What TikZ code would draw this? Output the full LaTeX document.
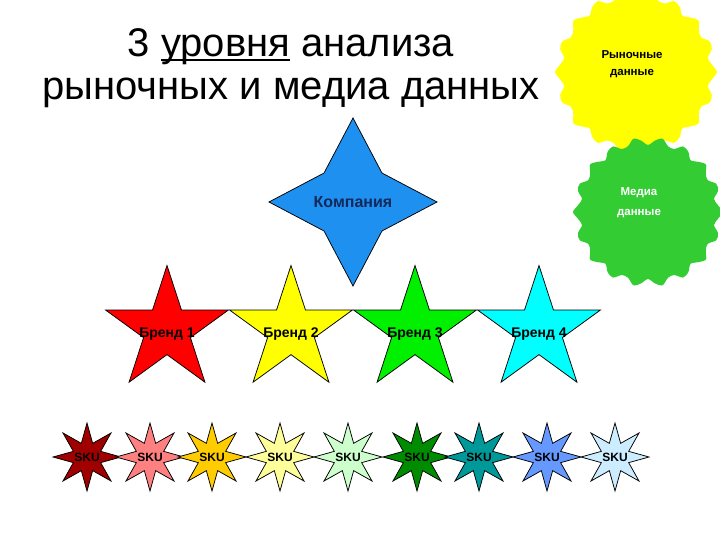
\documentclass[tikz,border=0pt]{standalone}
\usepackage{fontspec}
\setmainfont{Liberation Sans}
\usepackage{tikz}
\usetikzlibrary{shapes.geometric}

\newcommand{\titleuline}[1]{\setbox0\hbox{#1}\rlap{\rule[-5pt]{\wd0}{2.5pt}}#1}

\definecolor{sealyellow}{RGB}{255,255,0}
\definecolor{sealgreen}{RGB}{51,204,51}
\definecolor{companyblue}{RGB}{30,144,240}
\definecolor{companytext}{RGB}{20,40,90}
\definecolor{brandred}{RGB}{255,0,0}
\definecolor{brandyellow}{RGB}{255,255,0}
\definecolor{brandgreen}{RGB}{0,240,0}
\definecolor{brandcyan}{RGB}{0,255,255}
\definecolor{skudarkred}{RGB}{160,0,0}
\definecolor{skusalmon}{RGB}{255,128,128}
\definecolor{skugold}{RGB}{255,204,0}
\definecolor{skulightyellow}{RGB}{255,255,153}
\definecolor{skulightgreen}{RGB}{204,255,204}
\definecolor{skugreen}{RGB}{0,140,0}
\definecolor{skuteal}{RGB}{0,153,153}
\definecolor{skublue}{RGB}{102,153,255}
\definecolor{skulightblue}{RGB}{204,236,255}

\begin{document}
\begin{tikzpicture}[x=1pt,y=-1pt]
	\useasboundingbox[fill=white] (0,0) rectangle (720,540);

	\node[align=center,font=\fontsize{40}{43}\selectfont] (title) at (291,68) {3 \titleuline{уровня} анализа\\рыночных и медиа данных};

	\begin{scope}[shift={(636,72)}]
		\fill[sealyellow] plot[smooth cycle,domain=0:354.375,samples=64] (\x:{77+4*cos(18*\x)});
	\end{scope}
	\begin{scope}[shift={(648,212)}]
		\fill[sealgreen] plot[smooth cycle,domain=0:354.375,samples=64] (\x:{71+4*cos(18*\x)});
	\end{scope}

	\begin{scope}[every node/.style={star,inner sep=0pt,draw=black,line width=0.75pt}]
	    \node[star points=4,star point ratio=2.05,minimum size=168pt,fill=companyblue] (company) at (353,202) {};

	    \node[star points=5,star point ratio=2.618,minimum size=129pt,fill=brandred] (b1) at (167,330) {};
	    \node[star points=5,star point ratio=2.618,minimum size=129pt,fill=brandyellow] (b2) at (291,330) {};
	    \node[star points=5,star point ratio=2.618,minimum size=129pt,fill=brandgreen] (b3) at (415,330) {};
	    \node[star points=5,star point ratio=2.618,minimum size=129pt,fill=brandcyan] (b4) at (539,330) {};

	    \node[star points=8,star point ratio=2.3,minimum size=68pt,fill=skudarkred] (s1) at (87,457) {};
	    \node[star points=8,star point ratio=2.3,minimum size=68pt,fill=skusalmon] (s2) at (150,457) {};
	    \node[star points=8,star point ratio=2.3,minimum size=68pt,fill=skugold] (s3) at (212,457) {};
	    \node[star points=8,star point ratio=2.3,minimum size=68pt,fill=skulightyellow] (s4) at (280,457) {};
	    \node[star points=8,star point ratio=2.3,minimum size=68pt,fill=skulightgreen] (s5) at (348,457) {};
	    \node[star points=8,star point ratio=2.3,minimum size=68pt,fill=skugreen] (s6) at (417,457) {};
	    \node[star points=8,star point ratio=2.3,minimum size=68pt,fill=skuteal] (s7) at (479,457) {};
	    \node[star points=8,star point ratio=2.3,minimum size=68pt,fill=skublue] (s8) at (547,457) {};
	    \node[star points=8,star point ratio=2.3,minimum size=68pt,fill=skulightblue] (s9) at (615,457) {};
	\end{scope}

	\begin{scope}[every node/.style={inner sep=0pt,align=center,font=\bfseries\fontsize{12}{17}\selectfont}]
	    \node[font=\bfseries\fontsize{11.5}{17}\selectfont] (market) at (632,64) {Рыночные\\данные};
	    \node[text=white,font=\bfseries\fontsize{11.5}{20}\selectfont] (media) at (639,203) {Медиа\\данные};
	    \node[text=companytext,font=\bfseries\fontsize{16}{19}\selectfont] (companytext) at (company) {Компания};
	    \node[font=\bfseries\fontsize{14}{17}\selectfont,yshift=-4pt] (b1text) at (b1) {Бренд 1};
	    \node[font=\bfseries\fontsize{14}{17}\selectfont,yshift=-4pt] (b2text) at (b2) {Бренд 2};
	    \node[font=\bfseries\fontsize{14}{17}\selectfont,yshift=-4pt] (b3text) at (b3) {Бренд 3};
	    \node[font=\bfseries\fontsize{14}{17}\selectfont,yshift=-4pt] (b4text) at (b4) {Бренд 4};
	    \node (s1text) at (s1) {SKU};
	    \node (s2text) at (s2) {SKU};
	    \node (s3text) at (s3) {SKU};
	    \node (s4text) at (s4) {SKU};
	    \node (s5text) at (s5) {SKU};
	    \node (s6text) at (s6) {SKU};
	    \node (s7text) at (s7) {SKU};
	    \node (s8text) at (s8) {SKU};
	    \node (s9text) at (s9) {SKU};
	\end{scope}
\end{tikzpicture}
\end{document}
